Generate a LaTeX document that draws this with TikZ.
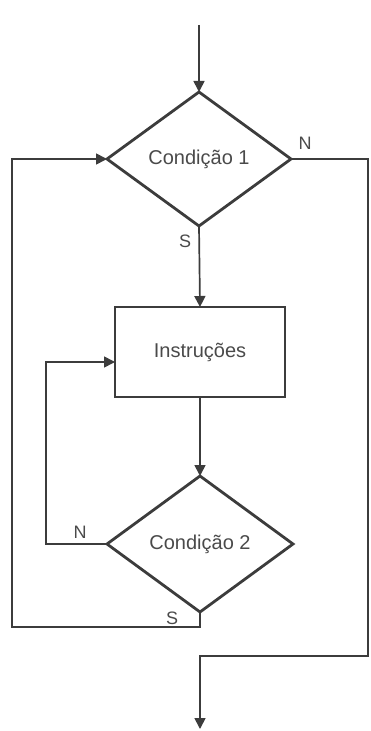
\documentclass[tikz,border=0pt]{standalone}
\usepackage{fontspec}
\setmainfont{Liberation Sans}
\usetikzlibrary{shapes.geometric,arrows.meta}
\definecolor{ink}{HTML}{3C3C3C}
\definecolor{txt}{HTML}{4A4A4A}
\tikzset{
  decision/.style={shape=diamond, draw=ink, line width=1.4pt, inner sep=0pt, outer sep=0pt,
    minimum width=#1, text=txt, font=\fontsize{10}{12}\selectfont},
  procbox/.style={shape=rectangle, draw=ink, line width=1.4pt, inner sep=0pt, outer sep=0pt,
    minimum width=85pt, minimum height=45pt, text=txt, font=\fontsize{10}{12}\selectfont},
  conn/.style={draw=ink, line width=0.85pt},
  arr/.style={conn, -{Triangle[length=5.5pt,width=5.5pt]}},
  lbl/.style={text=txt, font=\fontsize{9}{11}\selectfont, inner sep=0pt}
}
\begin{document}
\begin{tikzpicture}[x=0.5pt,y=-0.5pt]
\useasboundingbox (0,0) rectangle (370,731);
\node[decision=92pt, minimum height=67pt] (d1) at (199,159) {Condição 1};
\node[procbox] (box) at (200,352) {Instruções};
\node[decision=93pt, minimum height=68pt] (d2) at (200,544) {Condição 2};
\coordinate (top) at (199,25);
\coordinate (r1) at (368,159);
\coordinate (r2) at (368,656);
\coordinate (b1) at (200,656);
\coordinate (bend) at (200,729);
\coordinate (l1) at (12,627);
\coordinate (l2) at (12,159);
\coordinate (i1) at (46,544);
\coordinate (i2) at (46,362);
\coordinate (i3) at (115,362);
% main flow
\draw[arr] (top) -- (d1.north);
\draw[arr] (d1.south) -- (box.north);
\draw[arr] (box.south) -- (d2.north);
% N exit of condition 1
\draw[arr] (d1.east) -- (r1) -- (r2) -- (b1) -- (bend);
% S of condition 2 back to condition 1
\draw[arr] (d2.south) -- (d2.south |- l1) -- (l1) -- (l2) -- (d1.west);
% N of condition 2 back to instructions
\draw[arr] (d2.west) -- (i1) -- (i2) -- (i3);
% labels
\node[lbl] (n1) at (305,143) {N};
\node[lbl] (sl1) at (185,241) {S};
\node[lbl] (n2) at (80,532) {N};
\node[lbl] (sl2) at (172,618) {S};
\end{tikzpicture}
\end{document}
